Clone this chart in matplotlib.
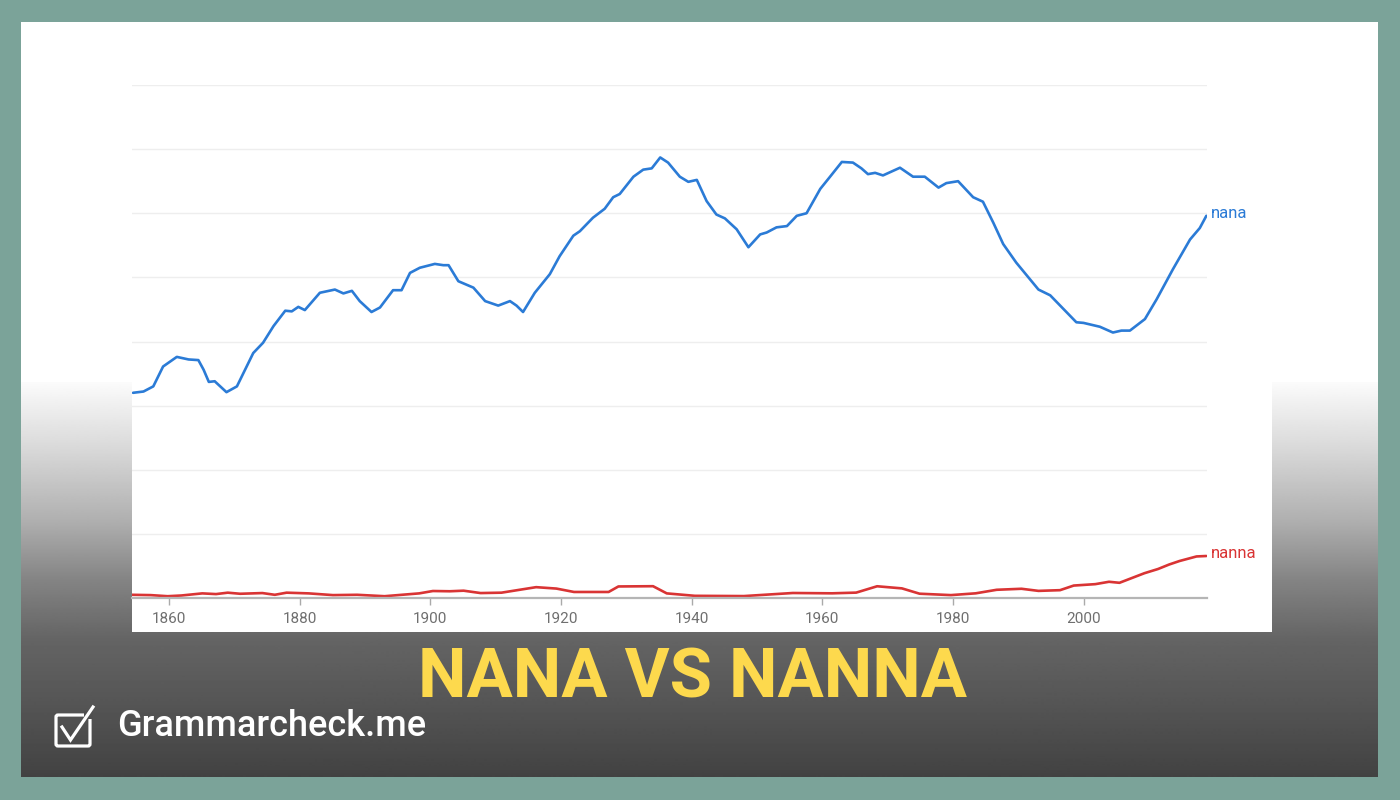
import numpy as np
import matplotlib
matplotlib.use("Agg")
from matplotlib import pyplot as plt
from matplotlib.patches import Rectangle, FancyBboxPatch
from matplotlib.lines import Line2D

# values are in units of one gridline step (no y labels on the original)
nana_years = [1854.5, 1856.1, 1857.6, 1859.1, 1861.2, 1863.0, 1864.5, 1865.3, 1866.1, 1867.0,
              1868.8, 1870.4, 1872.9, 1874.4, 1876.0, 1877.8, 1878.8, 1879.8, 1880.8, 1883.1,
              1885.4, 1886.7, 1888.0, 1889.2, 1891.0, 1892.3, 1894.3, 1895.6, 1896.9, 1898.4,
              1900.7, 1902.0, 1902.8, 1904.3, 1906.6, 1908.4, 1910.4, 1912.2, 1913.2, 1914.2,
              1916.0, 1918.3, 1919.8, 1921.9, 1922.9, 1924.9, 1926.7, 1928.0, 1929.0, 1931.1,
              1932.6, 1933.9, 1935.2, 1936.4, 1938.2, 1939.5, 1940.8, 1942.3, 1943.8, 1945.1,
              1946.9, 1948.7, 1950.5, 1951.5, 1953.0, 1954.6, 1956.1, 1957.6, 1959.7, 1961.2,
              1963.0, 1964.7, 1966.0, 1967.0, 1968.1, 1969.3, 1971.9, 1973.9, 1975.7, 1977.8,
              1979.0, 1980.8, 1983.1, 1984.6, 1986.2, 1987.7, 1989.7, 1993.1, 1994.9, 1998.9,
              2000.0, 2002.5, 2004.5, 2005.8, 2007.1, 2009.4, 2011.2, 2013.7, 2016.3, 2017.8,
              2018.8]
nana_vals = [3.20, 3.22, 3.30, 3.61, 3.76, 3.72, 3.71, 3.56, 3.37, 3.38,
             3.21, 3.30, 3.82, 3.98, 4.24, 4.48, 4.47, 4.54, 4.49, 4.76,
             4.81, 4.75, 4.79, 4.63, 4.46, 4.53, 4.80, 4.80, 5.07, 5.15,
             5.21, 5.19, 5.19, 4.94, 4.84, 4.63, 4.56, 4.63, 4.56, 4.46,
             4.76, 5.05, 5.33, 5.65, 5.72, 5.93, 6.07, 6.25, 6.30, 6.57,
             6.68, 6.70, 6.87, 6.79, 6.57, 6.49, 6.52, 6.19, 5.98, 5.92,
             5.75, 5.47, 5.67, 5.70, 5.78, 5.80, 5.96, 6.00, 6.38, 6.57,
             6.80, 6.79, 6.70, 6.61, 6.63, 6.59, 6.71, 6.57, 6.57, 6.40,
             6.47, 6.50, 6.25, 6.18, 5.85, 5.52, 5.23, 4.81, 4.72, 4.30,
             4.29, 4.23, 4.14, 4.17, 4.17, 4.35, 4.66, 5.13, 5.59, 5.77,
             5.96]

nanna_years = [1854.3, 1857.2, 1859.8, 1861.9, 1865.1, 1867.2, 1869.0, 1870.9, 1874.3, 1876.2,
               1878.0, 1881.4, 1885.1, 1888.8, 1893.0, 1898.3, 1900.4, 1903.0, 1905.1, 1907.7,
               1910.9, 1916.2, 1919.3, 1922.0, 1927.3, 1928.8, 1934.1, 1936.2, 1940.5, 1948.0,
               1955.5, 1961.5, 1965.2, 1968.4, 1972.2, 1974.9, 1979.7, 1983.5, 1986.7, 1990.5,
               1993.1, 1996.4, 1998.5, 2001.8, 2003.9, 2005.5, 2009.3, 2011.4, 2013.1, 2014.7,
               2017.3, 2018.8]
nanna_vals = [0.050, 0.045, 0.028, 0.039, 0.072, 0.061, 0.083, 0.066, 0.077, 0.050,
              0.083, 0.072, 0.045, 0.050, 0.028, 0.072, 0.109, 0.105, 0.114, 0.077,
              0.083, 0.169, 0.147, 0.094, 0.094, 0.180, 0.184, 0.072, 0.034, 0.030,
              0.078, 0.073, 0.084, 0.183, 0.150, 0.067, 0.045, 0.073, 0.128, 0.144,
              0.111, 0.122, 0.194, 0.216, 0.253, 0.237, 0.386, 0.452, 0.522, 0.577,
              0.648, 0.655]

tick_years = [1860, 1880, 1900, 1920, 1940, 1960, 1980, 2000]

BLUE = "#2b7bd6"
RED = "#d93434"
TEAL = "#7ba399"

fig = plt.figure(figsize=(14, 8), dpi=100)
fig.patch.set_facecolor(TEAL)

# background decoration, drawn in pixel coordinates
bg = fig.add_axes([0, 0, 1, 1], zorder=0)
bg.set_xlim(0, 1400)
bg.set_ylim(800, 0)
bg.axis("off")
bg.add_patch(Rectangle((21, 22), 1357, 360, color="white", lw=0))
rows = np.arange(375, 778)
shade = np.interp(rows, [375, 450, 520, 580, 640, 700, 777], [255, 216, 176, 132, 100, 86, 66]) / 255
grad = np.repeat(shade[:, None], 2, axis=1)
bg.imshow(grad, cmap="gray", vmin=0, vmax=1, extent=[21, 1378, 777, 375],
          aspect="auto", interpolation="bilinear")
bg.set_xlim(0, 1400)
bg.set_ylim(800, 0)
bg.add_patch(Rectangle((132, 22), 1140, 610, color="white", lw=0))

# checkbox logo
bg.add_patch(FancyBboxPatch((56, 715), 34, 31, boxstyle="round,pad=0,rounding_size=2",
                            fill=False, ec="white", lw=2.3))
bg.add_patch(Rectangle((84, 711), 9, 8, color="#4f4f4f", lw=0))
bg.add_line(Line2D([62, 70.5, 93], [727, 740, 707], color="white", lw=2.3,
                   solid_joinstyle="miter"))
bg.text(117, 727, "Grammarcheck.me", color="white", fontsize=26, family="Roboto",
        weight="medium", va="center", ha="left")
bg.text(693, 679, "NANA VS NANNA", color="#fdd94d", fontsize=49.5, family="Roboto",
        weight="bold", va="center", ha="center")

# chart
ax = fig.add_axes([132 / 1400, 1 - 598 / 800, (1207 - 132) / 1400, (598 - 85) / 800], zorder=2)
ax.set_facecolor("none")
ax.plot(nana_years, nana_vals, color=BLUE, lw=1.9, solid_capstyle="round", solid_joinstyle="round")
ax.plot(nanna_years, nanna_vals, color=RED, lw=1.9, solid_capstyle="round", solid_joinstyle="round")
ax.annotate("nana", (nana_years[-1], nana_vals[-1]), xytext=(3, 2), textcoords="offset points",
            color=BLUE, fontsize=12, family="Roboto", va="center", ha="left")
ax.annotate("nanna", (nanna_years[-1], nanna_vals[-1]), xytext=(3, 2), textcoords="offset points",
            color=RED, fontsize=12, family="Roboto", va="center", ha="left")

ax.set_xlim(1854.34, 2018.9)
ax.set_ylim(0, 8)
ax.set_yticks(range(1, 9))
ax.yaxis.grid(True, color="#eeeeee", lw=1)
ax.set_axisbelow(True)
ax.tick_params(axis="y", left=False, labelleft=False)
ax.set_xticks(tick_years)
ax.tick_params(axis="x", direction="out", length=5, width=1, color="#aaaaaa",
               labelcolor="#6f6f6f", labelsize=11, pad=5)
for lab in ax.get_xticklabels():
    lab.set_family("Roboto")
for side in ("left", "right", "top"):
    ax.spines[side].set_visible(False)
ax.spines["bottom"].set_color("#b5b5b5")
ax.spines["bottom"].set_linewidth(1.6)

fig.savefig("out.png", dpi=100, facecolor=fig.get_facecolor())
